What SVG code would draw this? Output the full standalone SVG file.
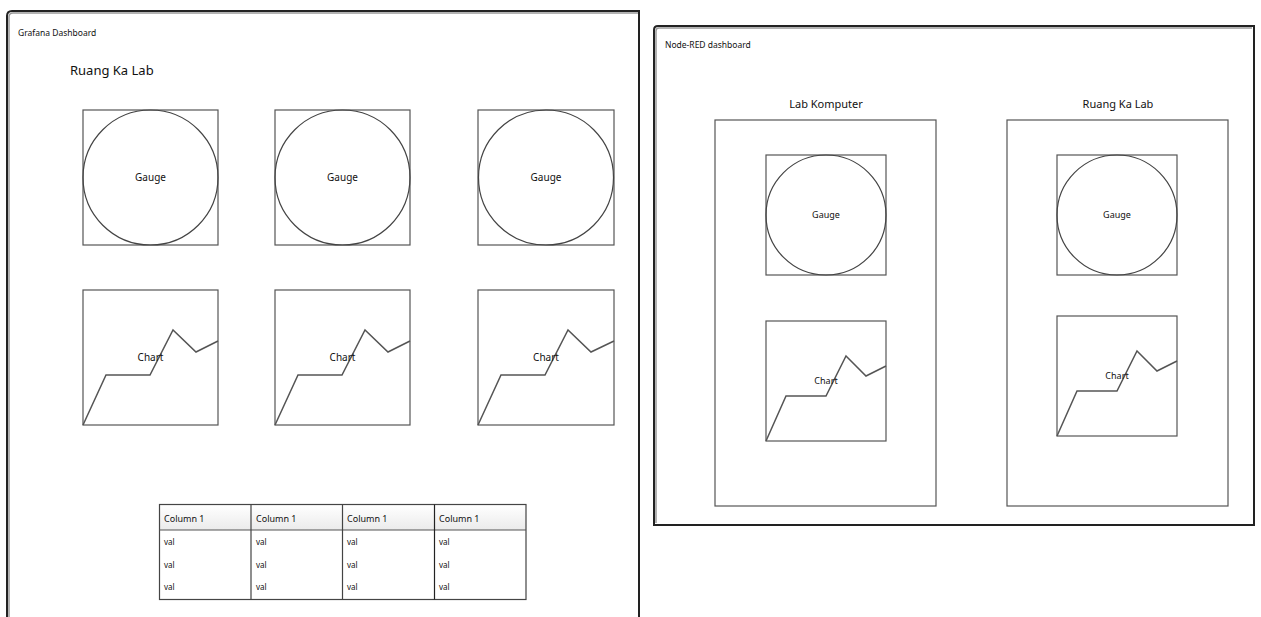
<svg xmlns="http://www.w3.org/2000/svg" width="1261" height="617" viewBox="0 0 1261 617">
<style>
text{font-family:"Noto Sans","Open Sans","DejaVu Sans",sans-serif;fill:#111}
.box{fill:none;stroke:#555;stroke-width:1.2}
.circ{fill:none;stroke:#444;stroke-width:1.2}
.line{fill:none;stroke:#555;stroke-width:1.5;stroke-linejoin:miter}
.lbl{font-size:10px;text-anchor:middle}
.sm{font-size:9px;text-anchor:middle}
.cap{font-size:8.5px}
.tbl{font-size:9px}
.frame{fill:#fff;stroke:#222;stroke-width:2}
.inner{fill:none;stroke:#999;stroke-width:1.5}
</style>
<defs>
<linearGradient id="hdr" x1="0" y1="0" x2="0" y2="1">
<stop offset="0" stop-color="#ffffff"/><stop offset="1" stop-color="#ebebeb"/>
</linearGradient>
</defs>
<rect width="1261" height="617" fill="#fff"/>

<g id="grafana">
<path class="frame" d="M7,620 L7,16 Q7,11 12,11 L639,11 L639,620"/>
<path class="inner" d="M9,620 L9,17 Q9,13 13,13 L638,13"/>
<text class="cap" x="18" y="36">Grafana Dashboard</text>
<text x="70" y="75" style="font-size:13px">Ruang Ka Lab</text>
</g>

<g id="g-gauge1"><rect class="box" x="83" y="110" width="135" height="135"/><circle class="circ" cx="150.5" cy="177.5" r="67.5"/><text class="lbl" x="150.5" y="181">Gauge</text></g>
<g id="g-gauge2"><rect class="box" x="275" y="110" width="135" height="135"/><circle class="circ" cx="342.5" cy="177.5" r="67.5"/><text class="lbl" x="342.5" y="181">Gauge</text></g>
<g id="g-gauge3"><rect class="box" x="478" y="110" width="136" height="135"/><circle class="circ" cx="546" cy="177.5" r="67.5"/><text class="lbl" x="546" y="181">Gauge</text></g>

<g id="g-chart1"><rect class="box" x="83" y="290" width="135" height="135"/><polyline class="line" points="83,425 106,375 150,375 173,330 196,352 218,341"/><text class="lbl" x="150.5" y="361">Chart</text></g>
<g id="g-chart2"><rect class="box" x="275" y="290" width="135" height="135"/><polyline class="line" points="275,425 298,375 342,375 365,330 388,352 410,341"/><text class="lbl" x="342.5" y="361">Chart</text></g>
<g id="g-chart3"><rect class="box" x="478" y="290" width="136" height="135"/><polyline class="line" points="478,425 501,375 545,375 568,330 591,352 614,341"/><text class="lbl" x="546" y="361">Chart</text></g>

<g id="g-table">
<rect x="159.5" y="504.5" width="366.5" height="25.5" fill="url(#hdr)"/>
<rect x="159.5" y="504.5" width="366.5" height="95" fill="none" stroke="#444" stroke-width="1.2"/>
<line x1="159.5" y1="530" x2="526" y2="530" stroke="#555" stroke-width="1.2"/>
<line x1="251" y1="504.5" x2="251" y2="599.5" stroke="#444" stroke-width="1.2"/>
<line x1="342.5" y1="504.5" x2="342.5" y2="599.5" stroke="#444" stroke-width="1.2"/>
<line x1="434.5" y1="504.5" x2="434.5" y2="599.5" stroke="#222" stroke-width="1.2"/>
<g class="tbl">
<text x="164" y="522">Column 1</text><text x="256" y="522">Column 1</text><text x="347" y="522">Column 1</text><text x="439" y="522">Column 1</text>
<text x="164" y="545" font-size="8">val</text><text x="256" y="545" font-size="8">val</text><text x="347" y="545" font-size="8">val</text><text x="439" y="545" font-size="8">val</text>
<text x="164" y="568" font-size="8">val</text><text x="256" y="568" font-size="8">val</text><text x="347" y="568" font-size="8">val</text><text x="439" y="568" font-size="8">val</text>
<text x="164" y="590" font-size="8">val</text><text x="256" y="590" font-size="8">val</text><text x="347" y="590" font-size="8">val</text><text x="439" y="590" font-size="8">val</text>
</g>
</g>

<g id="nodered">
<path class="frame" d="M654,525 L654,30 Q654,26 658,26 L1254,26 L1254,525 Z"/>
<path class="inner" d="M656,523 L656,31 Q656,28 659,28 L1252,28"/>
<text class="cap" x="665" y="48">Node-RED dashboard</text>
</g>

<g id="n-labkomputer">
<rect class="box" x="715" y="120" width="221" height="386"/>
<text x="826" y="108" style="font-size:11px;text-anchor:middle">Lab Komputer</text>
</g>
<g id="n-ruangkalab">
<rect class="box" x="1007" y="120" width="221" height="386"/>
<text x="1118" y="108" style="font-size:11px;text-anchor:middle">Ruang Ka Lab</text>
</g>

<g id="n-gauge1"><rect class="box" x="766" y="155" width="120" height="120"/><circle class="circ" cx="826" cy="215" r="60"/><text class="sm" x="826" y="218">Gauge</text></g>
<g id="n-gauge2"><rect class="box" x="1057" y="155" width="120" height="120"/><circle class="circ" cx="1117" cy="215" r="60"/><text class="sm" x="1117" y="218">Gauge</text></g>

<g id="n-chart1"><rect class="box" x="766" y="321" width="120" height="120"/><polyline class="line" points="766,441 786,396 826,396 846,356 866,376 886,366"/><text class="sm" x="826" y="384">Chart</text></g>
<g id="n-chart2"><rect class="box" x="1057" y="316" width="120" height="120"/><polyline class="line" points="1057,436 1077,391 1117,391 1137,351 1157,371 1177,361"/><text class="sm" x="1117" y="379">Chart</text></g>
</svg>
